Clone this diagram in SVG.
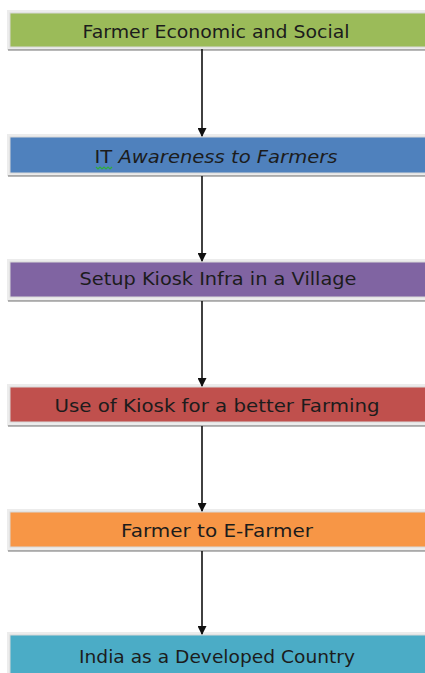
<svg xmlns="http://www.w3.org/2000/svg" width="425" height="673" viewBox="0 0 425 673">
  <style>
    .halo { fill: #ececec; }
    .shade { fill: #000; opacity: 0.28; }
    .box { stroke: #d8d8d8; stroke-width: 1; }
    .label { font-family: "Comic Sans MS", "DejaVu Sans", "Noto Sans", sans-serif; font-size: 17px; fill: #1c1c1c; text-anchor: middle; }
    .wire { stroke: #111; stroke-width: 1.6; fill: none; marker-end: url(#head); }
  </style>
  <defs>
    <marker id="head" viewBox="0 0 10 10" refX="9" refY="5" markerWidth="10" markerHeight="9" orient="auto" markerUnits="userSpaceOnUse">
      <path d="M0,0 L10,5 L0,10 z" fill="#111"/>
    </marker>
  </defs>
  <rect width="425" height="673" fill="#fff"/>

  <g id="n1">
    <rect class="halo" x="7" y="10" width="425" height="40"/>
    <rect class="shade" x="8" y="49" width="420" height="2"/>
    <rect class="box" x="10" y="13" width="420" height="34" fill="#9bbb59"/>
    <text class="label" x="216" y="38" textLength="267" lengthAdjust="spacingAndGlyphs">Farmer Economic and Social</text>
  </g>

  <g id="n2">
    <rect class="halo" x="7" y="134" width="425" height="42"/>
    <rect class="shade" x="8" y="175" width="420" height="2"/>
    <rect class="box" x="10" y="137" width="420" height="36" fill="#4f81bd"/>
    <text class="label" x="216" y="163" textLength="243" lengthAdjust="spacingAndGlyphs">IT <tspan font-style="italic">Awareness to Farmers</tspan></text>
    <!-- spell-check squiggle under "IT" -->
    <path d="M96,167 l2,2 l2,-2 l2,2 l2,-2 l2,2 l2,-2 l2,2 l2,-2" stroke="#2fae3a" stroke-width="1.2" fill="none"/>
  </g>

  <g id="n3">
    <rect class="halo" x="7" y="259" width="425" height="42"/>
    <rect class="shade" x="8" y="300" width="420" height="2"/>
    <rect class="box" x="10" y="262" width="420" height="35" fill="#8064a2"/>
    <text class="label" x="218" y="285" textLength="277" lengthAdjust="spacingAndGlyphs">Setup Kiosk Infra in a Village</text>
  </g>

  <g id="n4">
    <rect class="halo" x="7" y="384" width="425" height="42"/>
    <rect class="shade" x="8" y="425" width="420" height="2"/>
    <rect class="box" x="10" y="387" width="420" height="35" fill="#c0504d"/>
    <text class="label" x="217" y="412" textLength="325" lengthAdjust="spacingAndGlyphs">Use of Kiosk for a better Farming</text>
  </g>

  <g id="n5">
    <rect class="halo" x="7" y="509" width="425" height="42"/>
    <rect class="shade" x="8" y="550" width="420" height="2"/>
    <rect class="box" x="10" y="512" width="420" height="35" fill="#f79646"/>
    <text class="label" x="217" y="537" textLength="192" lengthAdjust="spacingAndGlyphs">Farmer to E-Farmer</text>
  </g>

  <g id="n6">
    <rect class="halo" x="7" y="632" width="425" height="45"/>
    <rect class="box" x="10" y="635" width="420" height="42" fill="#4bacc6"/>
    <text class="label" x="217" y="663" textLength="276" lengthAdjust="spacingAndGlyphs">India as a Developed Country</text>
  </g>

  <g id="connectors">
    <line class="wire" x1="202" y1="49" x2="202" y2="136"/>
    <line class="wire" x1="202" y1="176" x2="202" y2="261"/>
    <line class="wire" x1="202" y1="301" x2="202" y2="386"/>
    <line class="wire" x1="202" y1="426" x2="202" y2="511"/>
    <line class="wire" x1="202" y1="551" x2="202" y2="634"/>
  </g>
</svg>
